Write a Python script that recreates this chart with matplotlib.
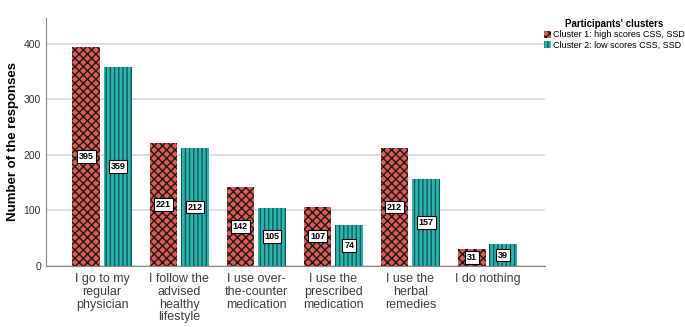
import numpy as np
import matplotlib.pyplot as plt

categories = ["I go to my\nregular\nphysician", "I follow the\nadvised\nhealthy\nlifestyle",
              "I use over-\nthe-counter\nmedication", "I use the\nprescribed\nmedication",
              "I use the\nherbal\nremedies", "I do nothing"]
cluster1 = [395, 221, 142, 107, 212, 31]
cluster2 = [359, 212, 105, 74, 157, 39]
series_names = ["Cluster 1: high scores CSS, SSD", "Cluster 2: low scores CSS, SSD"]

plt.rcParams['font.family'] = ['Liberation Sans', 'DejaVu Sans']
plt.rcParams['hatch.linewidth'] = 1.0
fig = plt.figure(figsize=(6.85, 3.27), dpi=100)
ax = fig.add_axes([0.067, 0.187, 0.729, 0.758])

x = np.arange(len(categories))
w = 0.36
off = 0.205
b1 = ax.bar(x - off, cluster1, w, color='#e05a55', edgecolor='#1a1a1a', hatch='xxxx', linewidth=0, label=series_names[0], zorder=2)
b2 = ax.bar(x + off, cluster2, w, color='#2bb5ae', edgecolor='#0d5c58', hatch='||||', linewidth=0, label=series_names[1], zorder=2)

for bars, vals in [(b1, cluster1), (b2, cluster2)]:
    for b, v in zip(bars, vals):
        ax.text(b.get_x() + b.get_width() / 2, v / 2, str(v), ha='center', va='center',
                fontsize=6.5, fontweight='bold', zorder=4,
                bbox=dict(boxstyle='square,pad=0.2', fc='white', ec='black', lw=0.8))

ax.set_xlim(-0.73, 5.75)
ax.set_ylim(0, 447)
ax.set_yticks([0, 100, 200, 300, 400])
ax.yaxis.grid(True, color='#d9d9d9', lw=1.2, zorder=0)
ax.set_axisbelow(True)
ax.set_xticks(x)
ax.set_xticklabels(categories, fontsize=9, color='#404040', linespacing=1.1)
ax.tick_params(axis='x', length=0, pad=5)
ax.tick_params(axis='y', length=0, labelsize=7.5, labelcolor='#333333')
for s in ['top', 'right']:
    ax.spines[s].set_visible(False)
for s in ['left', 'bottom']:
    ax.spines[s].set_color('#888888')
ax.set_ylabel("Number of the responses", fontsize=9.5, fontweight='bold', labelpad=3)

leg = ax.legend(loc='upper left', bbox_to_anchor=(0.99, 1.01), frameon=False, fontsize=6.5,
                title="Participants' clusters", handlelength=0.8, handleheight=0.8,
                handletextpad=0.2, borderaxespad=0, labelspacing=0.15)
leg.get_title().set_fontweight('bold')
leg.get_title().set_fontsize(7)

fig.savefig('out.png', dpi=100)
